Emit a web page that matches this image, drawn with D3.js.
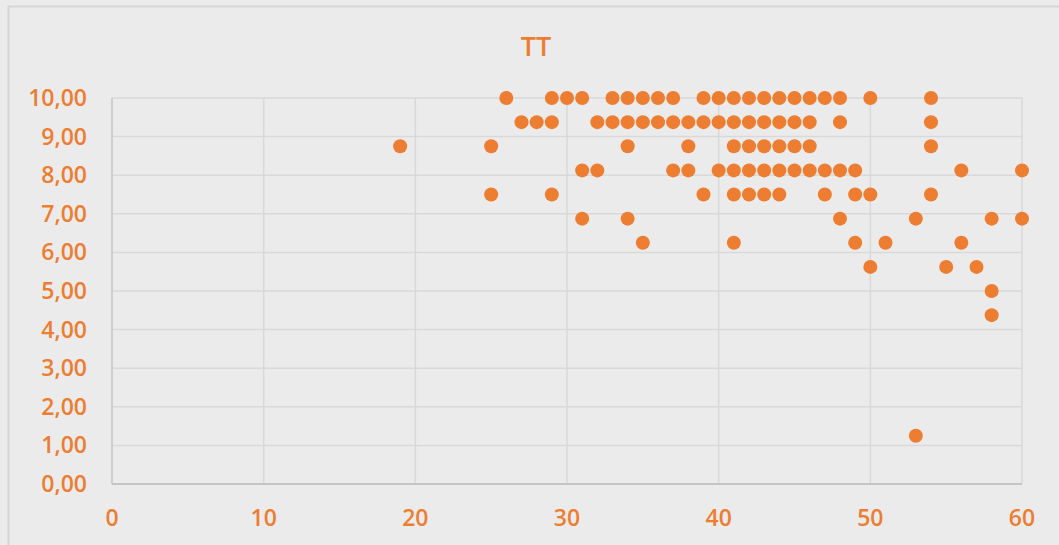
<!DOCTYPE html>
<html>
<head>
<meta charset="utf-8">
<script src="https://cdn.jsdelivr.net/npm/d3@7"></script>
<style>
  body { margin: 0; background: #ebebeb; }
  svg { display: block; font-family: "Open Sans", "Liberation Sans", sans-serif; }
</style>
</head>
<body>
<svg id="chart" width="1059" height="545"></svg>
<script>
// ages (x) for each score row (y)
const rowScores = [10, 9.375, 8.75, 8.125, 7.5, 6.875, 6.25, 5.625, 5, 4.375, 1.25];
const rowAges = [
	[26, 29, 30, 31, 33, 34, 35, 36, 37, 39, 40, 41, 42, 43, 44, 45, 46, 47, 48, 50, 54],
	[27, 28, 29, 32, 33, 34, 35, 36, 37, 38, 39, 40, 41, 42, 43, 44, 45, 46, 48, 54],
	[19, 25, 34, 38, 41, 42, 43, 44, 45, 46, 54],
	[31, 32, 37, 38, 40, 41, 42, 43, 44, 45, 46, 47, 48, 49, 56, 60],
	[25, 29, 39, 41, 42, 43, 44, 47, 49, 50, 54],
	[31, 34, 48, 53, 58, 60],
	[35, 41, 49, 51, 56],
	[50, 55, 57],
	[58],
	[58],
	[53]
];
const xTicks = [0, 10, 20, 30, 40, 50, 60];
const yTicks = [0, 1, 2, 3, 4, 5, 6, 7, 8, 9, 10];
const title = "TT";

const points = rowScores.flatMap((s, i) => rowAges[i].map((a) => ({ age: a, score: s })));

const svg = d3.select("svg#chart");
const orange = "#ed7d31";
const margin = { top: 98, left: 112 };
const chartWidth = 910;
const chartHeight = 386;

// outer chart frame
svg.append("rect")
	.attr("x", 8.5).attr("y", 6.5)
	.attr("width", 1100).attr("height", 600)
	.attr("fill", "#ebebeb")
	.attr("stroke", "#d6d6d6")
	.attr("stroke-width", 2);

svg.append("text")
	.attr("x", 536).attr("y", 56)
	.attr("text-anchor", "middle")
	.attr("fill", orange)
	.attr("font-size", 27)
	.attr("font-weight", 600)
	.text(title);

const g = svg.append("g").attr("transform", `translate(${margin.left},${margin.top})`);

const x = d3.scaleLinear([0, 60], [0, chartWidth]);
const y = d3.scaleLinear([0, 10], [chartHeight, 0]);

// gridlines
g.append("g")
	.selectAll("line.h")
	.data(yTicks)
	.join("line")
	.attr("x1", 0).attr("x2", chartWidth)
	.attr("y1", (d) => y(d)).attr("y2", (d) => y(d))
	.attr("stroke", "#d9d9d9").attr("stroke-width", 1.5);
g.append("g")
	.selectAll("line.v")
	.data(xTicks)
	.join("line")
	.attr("x1", (d) => x(d)).attr("x2", (d) => x(d))
	.attr("y1", 0).attr("y2", chartHeight)
	.attr("stroke", "#d9d9d9").attr("stroke-width", 1.5);

// axis lines
g.append("line")
	.attr("x1", 0).attr("x2", 0).attr("y1", 0).attr("y2", chartHeight)
	.attr("stroke", "#c8c8c8").attr("stroke-width", 1.5);
g.append("line")
	.attr("x1", 0).attr("x2", chartWidth).attr("y1", chartHeight).attr("y2", chartHeight)
	.attr("stroke", "#c4c4c4").attr("stroke-width", 2);

// tick labels
const fmt = (d) => d3.format(".2f")(d).replace(".", ",");
g.append("g")
	.selectAll("text")
	.data(yTicks)
	.join("text")
	.attr("x", -25)
	.attr("y", (d) => y(d))
	.attr("dy", "0.35em")
	.attr("text-anchor", "end")
	.attr("fill", orange)
	.attr("font-size", 23)
	.attr("font-weight", 600)
	.text(fmt);
g.append("g")
	.selectAll("text")
	.data(xTicks)
	.join("text")
	.attr("x", (d) => x(d))
	.attr("y", chartHeight + 34)
	.attr("dy", "0.35em")
	.attr("text-anchor", "middle")
	.attr("fill", orange)
	.attr("font-size", 23)
	.attr("font-weight", 600)
	.text((d) => d);

// points
g.append("g")
	.selectAll("circle")
	.data(points)
	.join("circle")
	.attr("cx", (d) => x(d.age))
	.attr("cy", (d) => y(d.score))
	.attr("r", 7)
	.attr("fill", orange);
</script>
</body>
</html>
